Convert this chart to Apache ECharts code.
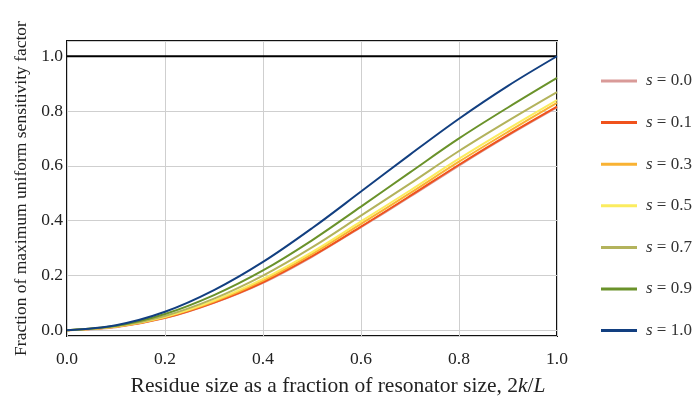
<!DOCTYPE html>
<html lang="en">
<head>
    <meta charset="UTF-8">
    <title>Sensitivity factor</title>
    <style>
        html, body { margin: 0; padding: 0; background: #fff; }
        #main { width: 695px; height: 402px; }
    </style>
    <script src="https://cdn.jsdelivr.net/npm/echarts@6/dist/echarts.min.js"></script>
</head>
<body>
<div id="main"></div>
<script>
    // residue size 2k/L
    var xs = [0, 0.1, 0.2, 0.3, 0.4, 0.5, 0.6, 0.7, 0.8, 0.9, 1.0];

    // fraction of max uniform sensitivity, one list per s
    var s00 = [0, 0.011, 0.044, 0.100, 0.173, 0.268, 0.376, 0.487, 0.601, 0.710, 0.813];
    var s01 = [0, 0.012, 0.045, 0.101, 0.175, 0.270, 0.378, 0.490, 0.604, 0.713, 0.816];
    var s03 = [0, 0.012, 0.047, 0.104, 0.181, 0.278, 0.388, 0.500, 0.615, 0.724, 0.830];
    var s05 = [0, 0.013, 0.049, 0.108, 0.187, 0.285, 0.397, 0.510, 0.626, 0.735, 0.840];
    var s07 = [0, 0.014, 0.052, 0.115, 0.199, 0.302, 0.418, 0.535, 0.654, 0.764, 0.869];
    var s09 = [0, 0.016, 0.059, 0.128, 0.218, 0.328, 0.451, 0.576, 0.700, 0.813, 0.921];
    var s10 = [0, 0.018, 0.067, 0.146, 0.249, 0.372, 0.506, 0.641, 0.772, 0.892, 1.000];

    var names = ['s = 0.0', 's = 0.1', 's = 0.3', 's = 0.5', 's = 0.7', 's = 0.9', 's = 1.0'];
    var values = [s00, s01, s03, s05, s07, s09, s10];
    var colors = ['#d99a98', '#f0521c', '#f9b233', '#fbec5f', '#b3b35c', '#6a922a', '#123f80'];

    var serif = "'Liberation Serif', 'DejaVu Serif', serif";

    function pairs(ys) {
        var out = [];
        for (var i = 0; i < xs.length; i++) {
            out.push([xs[i], ys[i]]);
        }
        return out;
    }

    var series = [];
    for (var i = 0; i < names.length; i++) {
        series.push({
            name: names[i],
            type: 'line',
            data: pairs(values[i]),
            smooth: 0.35,
            showSymbol: false,
            lineStyle: {color: colors[i], width: 2},
            itemStyle: {color: colors[i]},
            z: 3 + i
        });
    }
    // reference line at 1.0
    series.push({
        name: 'ref',
        type: 'line',
        data: [[0, 1], [1, 1]],
        showSymbol: false,
        lineStyle: {color: '#000', width: 2},
        z: 2
    });

    var myChart = echarts.init(document.getElementById('main'));
    myChart.setOption({
        animation: false,
        grid: {
            left: 67, top: 41, right: 138, bottom: 57,
            show: true,
            borderColor: '#111',
            borderWidth: 2
        },
        legend: {
            data: names,
            orient: 'vertical',
            left: 596,
            top: 66,
            icon: 'rect',
            itemWidth: 36,
            itemHeight: 3,
            itemGap: 21.6,
            formatter: function (name) {
                return '{i|s}{t|' + name.substring(1) + '}';
            },
            textStyle: {
                fontFamily: serif,
                fontSize: 17,
                lineHeight: 20,
                color: '#333',
                padding: [0, 0, 0, 4],
                rich: {
                    i: {fontStyle: 'italic', fontFamily: serif, fontSize: 17, lineHeight: 20, color: '#333'},
                    t: {fontFamily: serif, fontSize: 17, lineHeight: 20, color: '#333'}
                }
            }
        },
        xAxis: {
            type: 'value',
            min: 0,
            max: 1,
            interval: 0.2,
            name: 'Residue size as a fraction of resonator size, 2{i|k}/{i|L}',
            nameLocation: 'middle',
            nameGap: 39,
            nameTextStyle: {
                fontFamily: serif,
                fontSize: 21.5,
                color: '#222',
                padding: [0, 0, 0, 52],
                rich: {
                    i: {fontStyle: 'italic', fontFamily: serif, fontSize: 21.5, color: '#222'}
                }
            },
            axisLine: {show: false},
            axisTick: {show: false},
            axisLabel: {
                fontFamily: serif,
                fontSize: 17.5,
                color: '#222',
                margin: 14,
                formatter: function (v) { return v.toFixed(1); }
            },
            splitLine: {lineStyle: {color: '#cfcfcf', width: 1}}
        },
        yAxis: {
            type: 'value',
            min: -0.0213,
            max: 1.0557,
            splitNumber: 5,
            name: 'Fraction of maximum uniform sensitivity factor',
            nameLocation: 'middle',
            nameGap: 37,
            nameTextStyle: {fontFamily: serif, fontSize: 17.5, color: '#222'},
            axisLine: {show: false},
            axisTick: {show: false},
            axisLabel: {
                fontFamily: serif,
                fontSize: 17.5,
                color: '#222',
                margin: 4,
                showMinLabel: false,
                showMaxLabel: false,
                formatter: function (v) {
                    var r = Math.round(v * 10) / 10;
                    if (Math.abs(v - r) > 1e-6) return '';
                    return r.toFixed(1);
                }
            },
            splitLine: {lineStyle: {color: '#cfcfcf', width: 1}}
        },
        series: series
    });
</script>
</body>
</html>
